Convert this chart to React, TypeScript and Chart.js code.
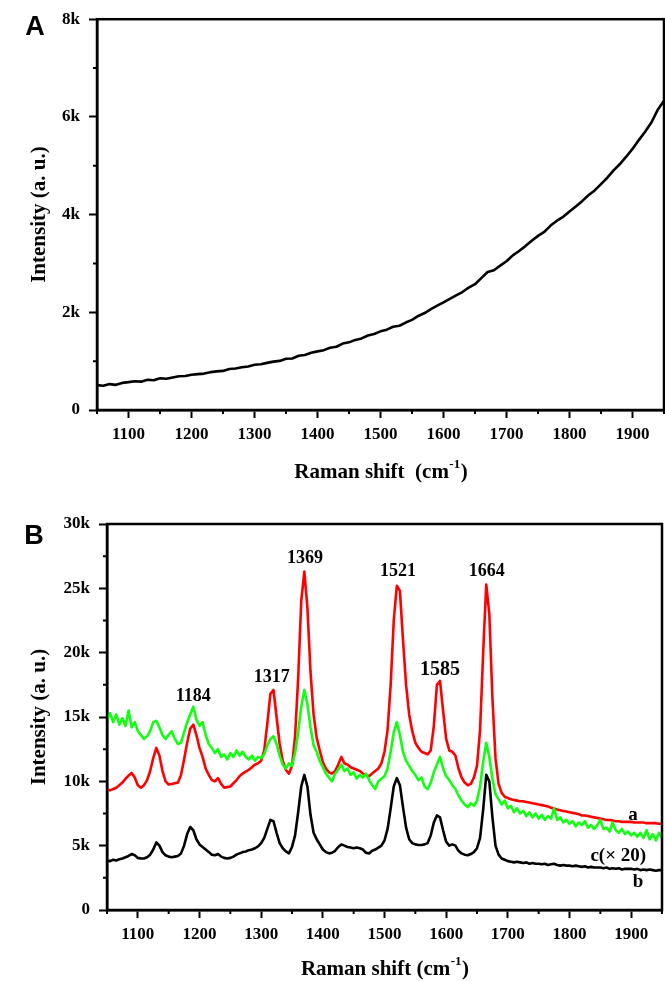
import React, { useEffect, useRef } from "react";
import { Chart, registerables } from "chart.js";

Chart.register(...registerables);

const SERIF = '"Liberation Serif", "Times New Roman", serif';
const SANS = '"Liberation Sans", Arial, sans-serif';

// ---------- Panel A data (intensity in thousands) ----------
const shiftA = [
  1050, 1060, 1070, 1080, 1090, 1100, 1110, 1120, 1130, 1140,
  1150, 1160, 1170, 1180, 1190, 1200, 1210, 1220, 1230, 1240,
  1250, 1260, 1270, 1280, 1290, 1300, 1310, 1320, 1330, 1340,
  1350, 1360, 1370, 1380, 1390, 1400, 1410, 1420, 1430, 1440,
  1450, 1460, 1470, 1480, 1490, 1500, 1510, 1520, 1530, 1540,
  1550, 1560, 1570, 1580, 1590, 1600, 1610, 1620, 1630, 1640,
  1650, 1660, 1670, 1680, 1690, 1700, 1710, 1720, 1730, 1740,
  1750, 1760, 1770, 1780, 1790, 1800, 1810, 1820, 1830, 1840,
  1850, 1860, 1870, 1880, 1890, 1900, 1910, 1920, 1930, 1940,
  1950,
];
const intensityA = [
  0.51, 0.495, 0.53, 0.515, 0.555, 0.57, 0.59, 0.58, 0.62, 0.61,
  0.65, 0.64, 0.665, 0.69, 0.695, 0.72, 0.735, 0.745, 0.775, 0.79,
  0.8, 0.84, 0.85, 0.875, 0.89, 0.925, 0.935, 0.965, 0.99, 1.005,
  1.05, 1.055, 1.11, 1.125, 1.17, 1.2, 1.225, 1.275, 1.295, 1.36,
  1.385, 1.435, 1.465, 1.525, 1.555, 1.61, 1.645, 1.705, 1.725, 1.79,
  1.845, 1.925, 1.985, 2.065, 2.135, 2.205, 2.275, 2.345, 2.415, 2.505,
  2.575, 2.7, 2.825, 2.86, 2.955, 3.045, 3.165, 3.255, 3.355, 3.465,
  3.565, 3.645, 3.775, 3.875, 3.955, 4.065, 4.165, 4.275, 4.395, 4.495,
  4.625, 4.755, 4.905, 5.035, 5.185, 5.345, 5.525, 5.695, 5.885, 6.145,
  6.33,
];

// ---------- Panel B data (intensity in thousands) ----------
const shiftB = [
  1050, 1055, 1060, 1065, 1070, 1075, 1080, 1085, 1090, 1095,
  1100, 1105, 1110, 1115, 1120, 1125, 1130, 1135, 1140, 1145,
  1150, 1155, 1160, 1165, 1170, 1175, 1180, 1185, 1190, 1195,
  1200, 1205, 1210, 1215, 1220, 1225, 1230, 1235, 1240, 1245,
  1250, 1255, 1260, 1265, 1270, 1275, 1280, 1285, 1290, 1295,
  1300, 1305, 1310, 1315, 1320, 1325, 1330, 1335, 1340, 1345,
  1350, 1355, 1360, 1365, 1370, 1375, 1380, 1385, 1390, 1395,
  1400, 1405, 1410, 1415, 1420, 1425, 1430, 1435, 1440, 1445,
  1450, 1455, 1460, 1465, 1470, 1475, 1480, 1485, 1490, 1495,
  1500, 1505, 1510, 1515, 1520, 1525, 1530, 1535, 1540, 1545,
  1550, 1555, 1560, 1565, 1570, 1575, 1580, 1585, 1590, 1595,
  1600, 1605, 1610, 1615, 1620, 1625, 1630, 1635, 1640, 1645,
  1650, 1655, 1660, 1665, 1670, 1675, 1680, 1685, 1690, 1695,
  1700, 1705, 1710, 1715, 1720, 1725, 1730, 1735, 1740, 1745,
  1750, 1755, 1760, 1765, 1770, 1775, 1780, 1785, 1790, 1795,
  1800, 1805, 1810, 1815, 1820, 1825, 1830, 1835, 1840, 1845,
  1850, 1855, 1860, 1865, 1870, 1875, 1880, 1885, 1890, 1895,
  1900, 1905, 1910, 1915, 1920, 1925, 1930, 1935, 1940, 1945,
  1950,
];
const curveA = [
  9.35, 9.3, 9.4, 9.5, 9.7, 9.9, 10.2, 10.45, 10.65, 10.3,
  9.7, 9.5, 9.7, 10.1, 10.8, 11.8, 12.6, 12.0, 10.8, 10.0,
  9.75, 9.8, 9.85, 9.9, 10.5, 11.7, 13.0, 14.1, 14.4, 13.6,
  12.6, 11.9, 11.0, 10.5, 10.1, 10.0, 10.25, 9.8, 9.5, 9.55,
  9.6, 9.85, 10.1, 10.4, 10.6, 10.75, 10.9, 11.1, 11.3, 11.4,
  11.6, 12.4, 14.5, 16.8, 17.1, 15.0, 12.9, 11.6, 10.9, 10.6,
  11.2, 13.5, 18.0, 24.0, 26.3, 23.5, 18.5, 15.2, 13.4, 12.4,
  11.5, 11.0, 10.7, 10.6, 10.8, 11.3, 11.9, 11.4, 11.3, 11.1,
  11.0, 10.9, 10.8, 10.6, 10.5, 10.4, 10.6, 10.8, 11.0, 11.4,
  12.3, 14.0, 17.5, 22.5, 25.2, 24.8, 21.0, 17.5, 15.2, 13.9,
  13.0, 12.6, 12.3, 12.2, 12.1, 12.4, 14.3, 17.5, 17.8, 15.5,
  13.3, 12.4, 12.3, 12.0, 11.0, 10.3, 9.9, 9.7, 9.8, 10.3,
  11.2, 14.0, 20.0, 25.3, 23.0, 16.5, 11.8, 9.8, 9.1, 8.8,
  8.7, 8.6, 8.55, 8.5, 8.45, 8.45, 8.4, 8.35, 8.3, 8.25,
  8.2, 8.15, 8.1, 8.05, 7.95, 7.9, 7.8, 7.75, 7.7, 7.65,
  7.6, 7.55, 7.5, 7.45, 7.35, 7.35, 7.3, 7.25, 7.2, 7.15,
  7.1, 7.05, 7.0, 7.0, 6.95, 6.9, 6.9, 6.85, 6.85, 6.85,
  6.85, 6.8, 6.8, 6.8, 6.8, 6.75, 6.75, 6.75, 6.75, 6.7,
  6.7,
];
const curveB = [
  3.85, 3.8, 3.9, 3.85, 3.95, 4.0, 4.1, 4.2, 4.35, 4.25,
  4.05, 4.0, 4.0, 4.1, 4.3, 4.7, 5.25, 5.0, 4.5, 4.25,
  4.15, 4.1, 4.15, 4.2, 4.4, 5.0, 5.9, 6.45, 6.2, 5.5,
  5.1, 4.9, 4.7, 4.5, 4.3, 4.25, 4.35, 4.15, 4.05, 4.0,
  4.05, 4.15, 4.3, 4.4, 4.5, 4.55, 4.65, 4.7, 4.8, 4.95,
  5.2, 5.6, 6.3, 7.0, 6.9, 6.0, 5.2, 4.8, 4.55, 4.4,
  4.9, 5.8, 7.6, 9.6, 10.5, 9.6, 7.4, 6.0, 5.5, 5.1,
  4.7, 4.5, 4.4, 4.45, 4.6, 4.9, 5.1, 5.0, 4.9, 4.85,
  4.8, 4.85, 4.8, 4.7, 4.45, 4.4, 4.6, 4.7, 4.85, 5.0,
  5.4, 6.3, 7.9, 9.6, 10.25, 9.7, 8.0, 6.4, 5.5, 5.2,
  5.1, 5.05, 5.05, 5.1, 5.2, 5.8, 6.8, 7.35, 7.2, 6.2,
  5.3, 5.0, 5.1, 5.0, 4.6, 4.4, 4.3, 4.25, 4.35, 4.5,
  4.8, 5.6, 7.8, 10.5, 10.0, 7.2, 5.0, 4.3, 4.0, 3.9,
  3.8, 3.75, 3.7, 3.75, 3.7, 3.65, 3.7, 3.6, 3.65, 3.6,
  3.6, 3.55, 3.6, 3.5, 3.55, 3.6, 3.5, 3.45, 3.5, 3.45,
  3.45, 3.4, 3.45, 3.4, 3.35, 3.4, 3.3, 3.35, 3.3, 3.3,
  3.3, 3.25, 3.3, 3.2, 3.25, 3.2, 3.25, 3.15, 3.2, 3.2,
  3.2, 3.15, 3.2, 3.1, 3.15, 3.1, 3.15, 3.1, 3.05, 3.1,
  3.1,
];
const curveC = [
  14.8, 15.3, 14.6, 15.2, 14.4, 14.9, 14.3, 15.5, 14.2, 14.6,
  13.9, 13.6, 13.3, 13.5, 13.9, 14.6, 14.7, 14.2, 13.6, 13.3,
  13.6, 13.9, 13.3, 12.9, 13.0, 13.8, 14.6, 15.2, 15.8, 14.8,
  14.3, 14.6, 13.6, 12.9, 12.6, 12.2, 12.5, 11.9, 12.1, 11.7,
  12.2, 11.9, 12.4, 12.0, 12.3, 11.9, 11.7, 12.0, 11.6, 11.9,
  11.8, 12.1, 12.8, 13.3, 13.5, 12.9, 12.0, 11.3, 11.0, 11.4,
  11.2, 12.2, 13.8, 15.8, 17.1, 16.0, 14.2, 12.8, 12.3, 11.6,
  11.1, 10.6, 10.3, 10.0, 10.6, 10.9, 11.3, 10.8, 11.0, 10.5,
  10.7, 10.2, 10.5, 10.3, 10.6, 10.1, 9.7, 9.4, 10.0, 10.2,
  10.4, 11.0, 12.3, 13.8, 14.6, 13.6, 12.3, 11.6, 11.2, 10.8,
  10.5, 10.1, 10.3, 9.6, 9.4, 9.9, 10.7, 11.3, 11.9, 11.0,
  10.4, 10.1, 9.7, 9.4, 8.9, 8.5, 8.2, 8.0, 8.3, 8.1,
  8.5, 9.6, 11.5, 13.0, 11.9, 10.2, 9.0, 8.6, 8.2, 8.5,
  7.9, 8.1, 7.6, 7.9, 7.5, 7.7, 7.3, 7.6, 7.2, 7.5,
  7.1, 7.4, 7.0, 7.3, 7.1, 7.9, 7.0, 7.2, 6.8, 7.0,
  6.7, 6.9, 6.5, 6.8, 6.6, 6.9, 6.4, 6.6, 6.3, 6.6,
  7.0, 6.3, 6.4, 6.1, 6.8, 6.2, 6.0, 6.3, 5.9, 6.1,
  5.8, 6.0, 5.7, 6.0, 5.6, 6.2, 5.5, 5.9, 5.4, 6.0,
  5.6,
];

// ---------- ticks ----------
const xMajorTicks = [1100, 1200, 1300, 1400, 1500, 1600, 1700, 1800, 1900];
const xMinorTicks = [1050, 1150, 1250, 1350, 1450, 1550, 1650, 1750, 1850, 1950];
const yMajorA = [0, 2, 4, 6, 8];
const yMinorA = [1, 3, 5, 7];
const yMajorB = [0, 5, 10, 15, 20, 25, 30];
const yMinorB = [2.5, 7.5, 12.5, 17.5, 22.5, 27.5];

// ---------- annotations (data coordinates) ----------
const peakLabels = ["1184", "1317", "1369", "1521", "1585", "1664"];
const peakLabelShift = [1190, 1317, 1371, 1522, 1590, 1666];
const peakLabelIntensity = [16.6, 18.1, 27.3, 26.3, 18.7, 26.3];
const peakLabelSize = [18, 18, 18, 18, 20, 18];
const curveLabels = ["a", "c(\u00d7 20)", "b"];
const curveLabelShift = [1903, 1879, 1911];
const curveLabelIntensity = [7.4, 4.2, 2.2];

type Label = { text: string; x: number; y: number; size: number };

function makeChart(canvas: HTMLCanvasElement, spec: any) {
  const tickFont = { family: SERIF, size: 17, weight: "bold" as const };
  const decor = {
    id: "decor",
    afterDraw(chart: any) {
      const { ctx, chartArea: a } = chart;
      const xs = chart.scales.x;
      const ys = chart.scales.y;
      ctx.save();
      ctx.strokeStyle = "#000";
      ctx.lineWidth = 2.5;
      ctx.strokeRect(a.left, a.top, a.right - a.left, a.bottom - a.top);
      ctx.lineWidth = 2;
      ctx.beginPath();
      spec.xMinorTicks.forEach((v: number) => {
        const p = xs.getPixelForValue(v);
        ctx.moveTo(p, a.bottom);
        ctx.lineTo(p, a.bottom + 4);
      });
      spec.yMinor.forEach((v: number) => {
        const p = ys.getPixelForValue(v);
        ctx.moveTo(a.left - 4, p);
        ctx.lineTo(a.left, p);
      });
      ctx.stroke();

      ctx.fillStyle = "#000";
      ctx.textAlign = "center";
      ctx.textBaseline = "middle";
      ctx.font = `bold 27px ${SANS}`;
      ctx.fillText(spec.letter, spec.letterX, spec.letterY);

      ctx.save();
      ctx.translate(spec.yTitleX, (a.top + a.bottom) / 2);
      ctx.rotate(-Math.PI / 2);
      ctx.font = `bold 21px ${SERIF}`;
      ctx.fillText("Intensity (a. u.)", 0, 0);
      ctx.restore();

      const big = `bold 21px ${SERIF}`;
      const small = `bold 13px ${SERIF}`;
      ctx.font = big;
      const w1 = ctx.measureText(spec.xTitleMain).width;
      const w3 = ctx.measureText(")").width;
      ctx.font = small;
      const w2 = ctx.measureText("-1").width;
      const x0 = (a.left + a.right) / 2 - (w1 + w2 + w3) / 2;
      ctx.textAlign = "left";
      ctx.font = big;
      ctx.fillText(spec.xTitleMain, x0, spec.xTitleY);
      ctx.fillText(")", x0 + w1 + w2 + 1, spec.xTitleY);
      ctx.font = small;
      ctx.fillText("-1", x0 + w1 + 0.5, spec.xTitleY - 8);

      ctx.textAlign = "center";
      spec.labels.forEach((l: Label) => {
        ctx.font = `bold ${l.size}px ${SERIF}`;
        ctx.fillText(l.text, xs.getPixelForValue(l.x), ys.getPixelForValue(l.y));
      });
      ctx.restore();
    },
  };

  return new Chart(canvas, {
    type: "line",
    data: { datasets: spec.datasets },
    options: {
      animation: false,
      responsive: false,
      devicePixelRatio: 1,
      layout: { padding: spec.padding },
      plugins: { legend: { display: false }, tooltip: { enabled: false } },
      elements: {
        point: { radius: 0 },
        line: { tension: 0, borderJoinStyle: "round", borderCapStyle: "round" },
      },
      scales: {
        x: {
          type: "linear",
          min: 1050,
          max: 1950,
          afterBuildTicks: (s: any) => {
            s.ticks = xMajorTicks.map((v) => ({ value: v }));
          },
          afterFit: (s: any) => {
            s.height = spec.xAxisHeight;
          },
          ticks: {
            callback: (v: any) => String(v),
            font: tickFont,
            color: "#000",
            padding: 6,
            maxRotation: 0,
            autoSkip: false,
          },
          grid: { drawOnChartArea: false, drawTicks: true, tickLength: 8, tickWidth: 2, tickColor: "#000" },
          border: { display: true, color: "#000", width: 2.5 },
        },
        y: {
          type: "linear",
          min: 0,
          max: spec.yMax,
          afterBuildTicks: (s: any) => {
            s.ticks = spec.yMajor.map((v: number) => ({ value: v }));
          },
          afterFit: (s: any) => {
            s.width = spec.yAxisWidth;
          },
          ticks: {
            callback: (v: any) => (v === 0 ? "0" : `${v}k`),
            font: tickFont,
            color: "#000",
            padding: 9,
          },
          grid: { drawOnChartArea: false, drawTicks: true, tickLength: 8, tickWidth: 2, tickColor: "#000" },
          border: { display: true, color: "#000", width: 2.5 },
        },
      },
    },
    plugins: [decor],
  } as any);
}

export default function App() {
  const refA = useRef<HTMLCanvasElement>(null);
  const refB = useRef<HTMLCanvasElement>(null);

  useEffect(() => {
    const pts = (xs: number[], ys: number[]) => xs.map((x, i) => ({ x, y: ys[i] }));
    const chartA = makeChart(refA.current!, {
      letter: "A",
      letterX: 35,
      letterY: 28,
      yTitleX: 40,
      xTitleY: 473,
      xTitleMain: "Raman shift  (cm",
      yMax: 8,
      yMajor: yMajorA,
      yMinor: yMinorA,
      xMinorTicks,
      yAxisWidth: 97,
      xAxisHeight: 80,
      padding: { top: 19, right: 1, left: 0, bottom: 0 },
      datasets: [
        { data: pts(shiftA, intensityA), borderColor: "#000", borderWidth: 2.6, fill: false },
      ],
      labels: [],
    });

    const labels: Label[] = [
      ...peakLabels.map((t, i) => ({ text: t, x: peakLabelShift[i], y: peakLabelIntensity[i], size: peakLabelSize[i] })),
      ...curveLabels.map((t, i) => ({ text: t, x: curveLabelShift[i], y: curveLabelIntensity[i], size: 19 })),
    ];
    const chartB = makeChart(refB.current!, {
      letter: "B",
      letterX: 34,
      letterY: 47,
      yTitleX: 40,
      xTitleY: 480,
      xTitleMain: "Raman shift (cm",
      yMax: 30,
      yMajor: yMajorB,
      yMinor: yMinorB,
      xMinorTicks,
      yAxisWidth: 107,
      xAxisHeight: 71,
      padding: { top: 34, right: 3, left: 0, bottom: 0 },
      datasets: [
        { data: pts(shiftB, curveC), borderColor: "#11ff11", borderWidth: 2.6, fill: false, order: 0 },
        { data: pts(shiftB, curveA), borderColor: "#ff0000", borderWidth: 2.6, fill: false, order: 1 },
        { data: pts(shiftB, curveB), borderColor: "#000000", borderWidth: 2.6, fill: false, order: 2 },
      ],
      labels,
    });
    return () => {
      chartA.destroy();
      chartB.destroy();
    };
  }, []);

  return (
    <div style={{ position: "absolute", left: 0, top: 0, width: 665, height: 981, background: "#fff" }}>
      <canvas ref={refA} width={665} height={490} style={{ position: "absolute", left: 0, top: 0, display: "block" }} />
      <canvas ref={refB} width={665} height={491} style={{ position: "absolute", left: 0, top: 490, display: "block" }} />
    </div>
  );
}
